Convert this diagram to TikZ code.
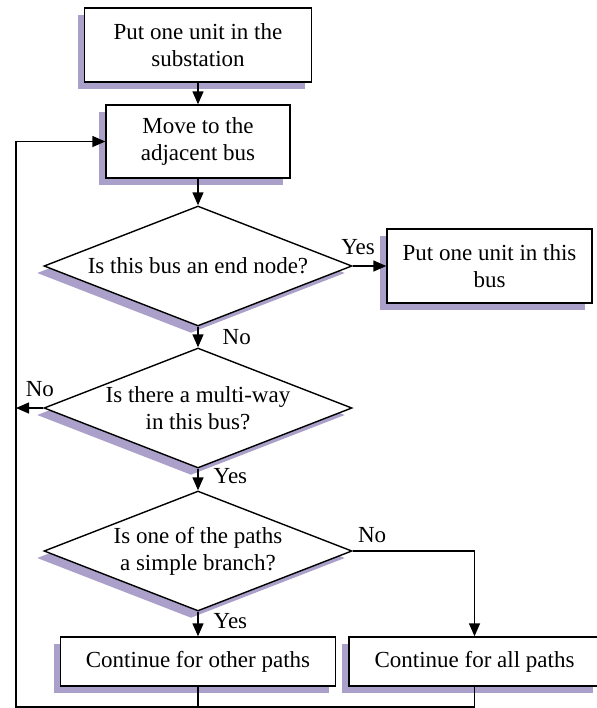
\documentclass[tikz,border=0pt]{standalone}
\usepackage{fontspec}
\setmainfont{Liberation Serif}
\usetikzlibrary{shapes.geometric,shadows,arrows.meta}
\definecolor{shd}{RGB}{171,160,201}
\begin{document}
\begin{tikzpicture}[x=0.5pt,y=-0.5pt,line width=0.7pt,font=\fontsize{11.5}{13.5}\selectfont]
        \tikzset{
            bx/.style={rectangle, draw, fill=white, align=center, inner sep=0pt,
            drop shadow={shadow xshift=-3.5pt, shadow yshift=-3.5pt, fill=shd, opacity=1}},
            dia/.style={diamond, draw, fill=white, align=center, inner sep=0pt,
            shape aspect=2.57, minimum width=154pt, minimum height=60pt,
            drop shadow={shadow xshift=-3.5pt, shadow yshift=-3.5pt, fill=shd, opacity=1}},
            c1/.style={-{Triangle[length=6.5pt,width=5.5pt]}},
            c2/.style={-},
            lbl/.style={inner sep=0pt}
            }
            \useasboundingbox (0,0) rectangle (597,708);

            \node[bx, minimum width=113.5pt, minimum height=37pt] (b1) at (198,45) {Put one unit in the\\substation};
            \node[bx, minimum width=92pt, minimum height=36.5pt] (b2) at (198,141.5) {Move to the\\adjacent bus};
            \node[dia] (d1) at (198,266) {Is this bus an end node?};
            \node[bx, minimum width=102.5pt, minimum height=37pt] (b3) at (489.5,266) {Put one unit in this\\bus};
            \node[dia] (d2) at (198,408) {Is there a multi-way\\in this bus?};
            \node[dia] (d3) at (198,551) {Is one of the paths\\a simple branch?};
            \node[bx, minimum width=137.5pt, minimum height=24.5pt] (b4) at (198,661.5) {Continue for other paths};
            \node[bx, minimum width=125.5pt, minimum height=24.5pt] (b5) at (474.5,661.5) {Continue for all paths};
            \coordinate (ret) at (16,707);

            \draw[c1] (b1) -- (b2);
            \draw[c1] (b2) -- (d1);
            \draw[c1] (d1.east) -- node[lbl, above, pos=0.16, yshift=5.5pt] {Yes} (b3.west);
            \draw[c1] (d1) -- node[lbl, right, pos=0.5, xshift=12pt] {No} (d2);
            \draw[c1] (d2.west) -- node[lbl, above, pos=0.125, yshift=5.5pt] {No} (d2.west -| ret);
            \draw[c1] (d2) -- node[lbl, right, pos=0.35, xshift=7.5pt] {Yes} (d3);
            \draw[c1] (d3.east) -| node[lbl, above, pos=0.08, yshift=4pt] {No} (b5.north);
            \draw[c1] (d3) -- node[lbl, right, pos=0.37, xshift=7.5pt] {Yes} (b4);
            \draw[c1] (b4.south) |- (ret) |- (b2.west);
            \draw[c2] (b5.south) -- (b5.south |- ret) -- (b4.south |- ret);
        \end{tikzpicture}
\end{document}
